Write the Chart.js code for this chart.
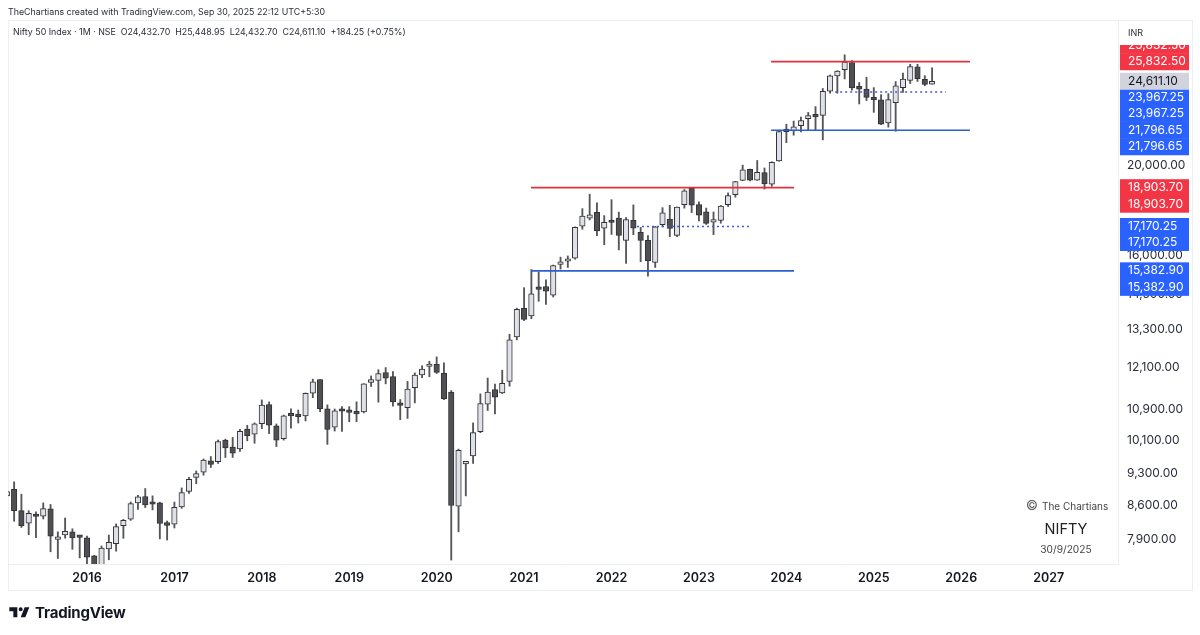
<!DOCTYPE html>
<html>
<head>
<meta charset="utf-8">
<title>Nifty 50 Index monthly</title>
<script src="https://cdn.jsdelivr.net/npm/chart.js@4"></script>
<style>
  html, body { margin: 0; padding: 0; background: #fff; }
  #wrap { position: relative; width: 1200px; height: 635px; overflow: hidden; font-family: Inter, "Noto Sans", sans-serif; color: #131722; }
  canvas { position: absolute; left: 0; top: 0; }
  .txt { position: absolute; white-space: pre; line-height: 1; }
</style>
</head>
<body>
<div id="wrap">
  <canvas id="candles" width="1200" height="635"></canvas>
  <div class="txt" style="left:8px;top:8px;font-size:8.85px;color:#2a2e39">TheChartians created with TradingView.com, Sep 30, 2025 22:12 UTC+5:30</div>
  <div class="txt" style="left:13px;top:28px;font-size:8.85px;color:#2a2e39">Nifty 50 Index · 1M · NSE  O24,432.70  H25,448.95  L24,432.70  C24,611.10  +184.25 (+0.75%)</div>
  <div class="txt" style="left:1128px;top:28px;font-size:9px;color:#2a2e39">INR</div>
  <div class="txt" style="left:1026px;top:499px;font-size:13px;color:#555">©</div>
  <div class="txt" style="left:1042px;top:501px;font-size:10px;color:#444">The Chartians</div>
  <div class="txt" style="left:1026px;width:80px;text-align:center;top:522px;font-size:14.5px;color:#222">NIFTY</div>
  <div class="txt" style="left:1026px;width:80px;text-align:center;top:544px;font-size:10.2px;color:#444">30/9/2025</div>
  <svg style="position:absolute;left:8px;top:603px" width="24" height="19" viewBox="0 0 36 28"><path fill="#131722" d="M14 6H2v6h6v9h6V6Zm12 15h-7l6-15h7l-6 15Zm-7-9a3 3 0 1 0 0-6 3 3 0 0 0 0 6Z"/></svg>
  <div class="txt" style="left:35px;top:605px;font-size:15px;font-weight:700;letter-spacing:-0.2px;color:#131722">TradingView</div>
</div>
<script>
// monthly candles, Feb 2015 .. Sep 2025
const opens = [
  8808,8953,8491,8230,8417,8376,8530,7907,7992,8055,7954,
  7938,7589,7038,7719,7822,8179,8313,8654,8793,8666,8654,8244,
  8210,8570,8905,9220,9339,9604,9587,10114,9937,9893,10390,10263,
  10531,11044,10479,10151,10783,10738,10734,11359,11751,10930,10441,10930,
  10881,10851,10842,11665,11725,11953,11839,11060,10960,11515,11886,12137,
  12202,11939,11388,8584,9533,9726,10323,11057,11464,11364,11697,13062,
  14018,13759,14702,14798,14481,15629,15755,15874,17185,17531,17784,17104,
  17388,17529,16593,17436,16924,16594,15704,17244,17486,16798,18130,18871,
  18131,17811,17360,17428,18124,18579,19246,19784,19258,19622,19064,20195,
  21727,21780,22048,22431,22605,22614,24011,24943,25333,25785,24304,24140,
  23637,23508,22194,23341,24220,24669,25505,24734,24432.7
];
const highs = [
  8941,9119,8844,8489,8467,8655,8621,8055,8336,8116,7979,
  7973,7600,7777,7992,8214,8308,8674,8819,8968,8806,8669,8274,
  8672,8982,9218,9367,9649,9709,10114,10137,10178,10384,10490,10552,
  11171,11117,10525,10759,10929,10893,11366,11760,11751,11035,10922,10985,
  10987,11118,11630,11856,12041,12103,11981,11181,11694,11945,12158,12294,
  12430,12246,11433,9889,9584,10553,11341,11794,11618,12025,13146,14024,
  14754,15432,15336,15045,15606,15915,15962,17153,17947,18604,18210,17640,
  18350,17794,17559,18115,17132,16793,17172,17992,18096,18022,18816,18887,
  18251,17972,17799,18089,18662,19201,19992,19796,20222,19850,20158,21801,
  22124,22298,22526,22783,23111,24174,24999,25269,26278,25908,24537,24858,
  24226,23807,23869,24589,25116,25669,25669,24956,25448.95
];
const lows = [
  8470,8269,8144,7997,7940,8316,7667,7540,7930,7714,7551,
  7241,6825,7035,7516,7678,7927,8287,8518,8555,8506,7916,7893,
  8133,8537,8860,9075,9269,9448,9543,9685,9687,9831,10094,10033,
  10404,10276,9951,10111,10417,10550,10604,11234,10850,10005,10341,10333,
  10583,10585,10817,11549,11108,11625,10999,10637,10670,11090,11802,11832,
  11929,11175,7511,8055,8806,9544,10299,10882,10790,11347,11557,12963,
  13597,13662,14264,14152,14416,15450,15513,15834,17055,17452,16782,16410,
  16836,16203,15671,16825,15735,15183,15511,17154,16747,16748,17969,17774,
  17405,17255,16828,17312,18042,18464,19234,19224,19255,18838,18974,20184,
  21137,21530,21710,21777,21821,21281,23893,23894,24753,24074,23263,23460,
  22786,22104,21965,21743,23935,24473,24599,24337,24432.7
];
const closes = [
  8901,8491,8181,8433,8368,8532,7971,7948,8066,7935,7946,
  7563,6987,7738,7849,8160,8287,8638,8786,8611,8625,8224,8185,
  8561,8879,9173,9304,9621,9520,10077,9917,9788,10335,10226,10530,
  11027,10492,10113,10739,10736,10714,11356,11680,10930,10386,10876,10862,
  10830,10792,11623,11748,11922,11788,11118,11023,11474,11877,12056,12168,
  11962,11201,8598,9859,9580,10302,11073,11388,11248,11642,12969,13982,
  13635,14529,14691,14631,15582,15721,15763,17132,17618,17672,16983,17354,
  17340,16794,17465,17103,16585,15780,17158,17759,17094,18012,18758,18105,
  17662,17304,17360,18065,18534,19189,19754,19254,19638,19080,20133,21731,
  21726,21983,22327,22605,22531,24011,24951,25236,25811,24205,24131,23645,
  23508,22125,23519,24334,24750,25517,24768,24426,24611.1
];
const firstMonth = -11; // months counted from Jan 2016
const yearLabels = ['2016','2017','2018','2019','2020','2021','2022','2023','2024','2025','2026','2027'];
const priceTicks = [7900,8600,9300,10100,10900,12100,13300,14500,16000,20000];

// support / resistance levels: price, from month, to month
const redTop = [25832.5, 93.9, 121.2];
const blueTop = [21796.65, 93.9, 121.2];
const dotTop = [23967.25, 102.7, 117.9];
const redLow = [18903.7, 60.95, 97.05];
const blueLow = [15382.9, 60.95, 97.05];
const dotLow = [17170.25, 75.5, 91];

const lastPrice = 24611.1;
const red = '#f23645', blue = '#2962ff';

const months = opens.map((_, i) => firstMonth + i);

function levelSet(level, color, dash, width) {
  return {
    type: 'line',
    data: [{x: level[1], y: level[0]}, {x: level[2], y: level[0]}],
    borderColor: color,
    borderWidth: width,
    borderDash: dash,
    pointRadius: 0,
    order: 1
  };
}

// price tags on the axis, dy pushes stacked tags apart like TradingView does
const tags = [
  {v: redTop[0], dy: -16.5, c: red, fg: '#fff'},
  {v: redTop[0], dy: 0, c: red, fg: '#fff'},
  {v: dotTop[0], dy: 5, c: blue, fg: '#fff'},
  {v: dotTop[0], dy: 21.5, c: blue, fg: '#fff'},
  {v: blueTop[0], dy: 0, c: blue, fg: '#fff'},
  {v: blueTop[0], dy: 16.5, c: blue, fg: '#fff'},
  {v: lastPrice, dy: 0, c: '#d1d4dc', fg: '#131722'},
  {v: redLow[0], dy: 0, c: red, fg: '#fff'},
  {v: redLow[0], dy: 16.5, c: red, fg: '#fff'},
  {v: dotLow[0], dy: 0, c: blue, fg: '#fff'},
  {v: dotLow[0], dy: 16, c: blue, fg: '#fff'},
  {v: blueLow[0], dy: 0, c: blue, fg: '#fff'},
  {v: blueLow[0], dy: 16.5, c: blue, fg: '#fff'}
];

function money(v) {
  return v.toLocaleString('en-US', {minimumFractionDigits: 2, maximumFractionDigits: 2});
}

const framePlugin = {
  id: 'frame',
  beforeDraw(chart) {
    const c = chart.ctx;
    c.save();
    c.strokeStyle = '#eceef2';
    c.lineWidth = 1;
    c.strokeRect(8.5, 20.5, 1184, 570);
    c.restore();
  },
  afterDraw(chart) {
    const c = chart.ctx, y = chart.scales.y;
    c.save();
    c.beginPath();
    c.rect(1119, 45, 73, 545);
    c.clip();
    c.font = '12px Inter, "Noto Sans", sans-serif';
    c.textBaseline = 'middle';
    c.textAlign = 'left';
    tags.forEach(t => {
      const py = y.getPixelForValue(t.v) + t.dy;
      c.fillStyle = t.c;
      c.fillRect(1120, py - 8.5, 69, 17);
      c.fillStyle = t.fg;
      c.fillText(money(t.v), 1128, py);
    });
    c.restore();
  }
};

new Chart(document.getElementById('candles'), {
  type: 'bar',
  plugins: [framePlugin],
  data: {
    datasets: [
      levelSet(redTop, '#e0323f', [], 1.7),
      levelSet(blueTop, '#2b5fd0', [], 1.7),
      levelSet(dotTop, '#3f5fc8', [2, 3], 1.6),
      levelSet(redLow, '#e0323f', [], 1.7),
      levelSet(blueLow, '#2b5fd0', [], 1.7),
      levelSet(dotLow, '#3f5fc8', [2, 3], 1.6),
      {
        data: months.map((m, i) => ({x: m, y: [opens[i], closes[i]]})),
        backgroundColor: closes.map((c, i) => c >= opens[i] ? '#dfe1e8' : '#505054'),
        borderColor: '#333337',
        borderWidth: 1,
        borderSkipped: false,
        barThickness: 5.5,
        minBarLength: 2.5,
        order: 2
      },
      {
        data: months.map((m, i) => ({x: m, y: [lows[i], highs[i]]})),
        backgroundColor: '#55555a',
        borderWidth: 0,
        barThickness: 1.2,
        order: 3
      }
    ]
  },
  options: {
    responsive: false,
    animation: false,
    layout: {padding: {left: 8, right: 8, top: 20, bottom: 45}},
    datasets: {bar: {grouped: false}},
    plugins: {legend: {display: false}, tooltip: {enabled: false}},
    scales: {
      x: {
        type: 'linear',
        min: -10.84,
        max: 141.52,
        offset: false,
        grid: {display: false, drawTicks: false},
        border: {display: true, color: '#eceef2'},
        afterBuildTicks(scale) {
          scale.ticks = yearLabels.map((_, i) => ({value: i * 12}));
        },
        afterFit(scale) {
          scale.height = 26;
          scale.paddingLeft = 0;
          scale.paddingRight = 0;
        },
        ticks: {
          autoSkip: false,
          maxRotation: 0,
          padding: 7,
          color: '#131722',
          font: {family: 'Inter', size: 12.5, weight: '600'},
          callback: v => yearLabels[v / 12]
        }
      },
      y: {
        type: 'logarithmic',
        position: 'right',
        min: 7438,
        max: 28647,
        bounds: 'data',
        grid: {display: false, drawTicks: false},
        border: {display: true, color: '#eceef2'},
        afterBuildTicks(scale) {
          scale.ticks = priceTicks.map(v => ({value: v}));
        },
        afterFit(scale) {
          scale.width = 74;
          scale.paddingTop = 0;
          scale.paddingBottom = 0;
        },
        ticks: {
          autoSkip: false,
          padding: 9,
          color: '#2a2e39',
          font: {family: 'Inter', size: 12},
          callback: v => money(v)
        }
      }
    }
  }
});
</script>
</body>
</html>
